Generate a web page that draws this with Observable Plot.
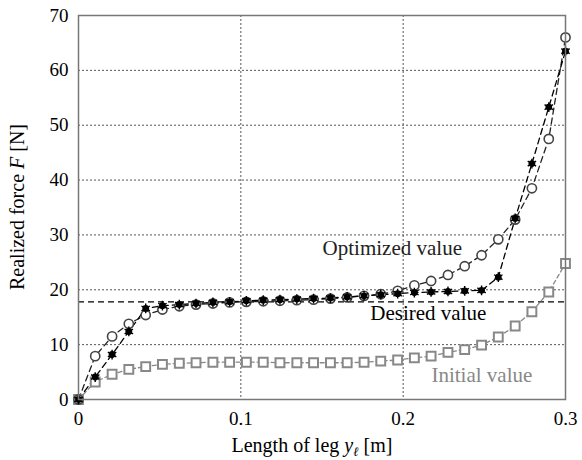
<!DOCTYPE html>
<html><head><meta charset="utf-8">
<script src="https://cdn.jsdelivr.net/npm/d3@7"></script>
<script src="https://cdn.jsdelivr.net/npm/@observablehq/plot@0.6"></script>
<style>
@font-face { font-family: "RefSerif"; src: local("Liberation Serif"), local("LiberationSerif"), local("LiberationSerif-Regular"); font-style: normal; }
@font-face { font-family: "RefSerif"; src: local("Liberation Serif Italic"), local("LiberationSerif-Italic"); font-style: italic; }
html,body{margin:0;padding:0;background:#fff;}
</style></head>
<body><div id="chart"></div>
<script>
const legLength = [0, 0.0103, 0.0207, 0.031, 0.0414, 0.0517, 0.0621, 0.0724, 0.0828, 0.0931, 0.1034, 0.1138, 0.1241, 0.1345, 0.1448, 0.1552, 0.1655, 0.1759, 0.1862, 0.1966, 0.2069, 0.2172, 0.2276, 0.2379, 0.2483, 0.2586, 0.269, 0.2793, 0.2897, 0.3];
const initialValue = [0, 3.2, 4.6, 5.5, 6.0, 6.4, 6.6, 6.7, 6.8, 6.8, 6.8, 6.8, 6.7, 6.7, 6.7, 6.7, 6.7, 6.8, 7.0, 7.2, 7.6, 7.9, 8.6, 9.1, 9.9, 11.4, 13.4, 16.0, 19.6, 24.8];
const optimizedValue = [0, 7.9, 11.5, 13.8, 15.4, 16.4, 17.0, 17.3, 17.5, 17.7, 17.8, 17.9, 18.0, 18.1, 18.2, 18.4, 18.6, 18.9, 19.2, 19.8, 20.8, 21.6, 22.7, 24.3, 26.3, 29.2, 32.8, 38.5, 47.5, 66.0];
const realizedValue = [0, 4.1, 8.2, 12.4, 16.6, 17.1, 17.3, 17.5, 17.7, 17.8, 18.0, 18.1, 18.2, 18.3, 18.4, 18.5, 18.7, 18.9, 19.1, 19.3, 19.5, 19.6, 19.7, 19.8, 19.9, 22.3, 33.0, 43.0, 53.3, 63.5];
const desiredValue = 17.8;
const xTicks = [0, 0.1, 0.2, 0.3];
const yTicks = [0, 10, 20, 30, 40, 50, 60, 70];

const initial = legLength.map((x, i) => ({x, y: initialValue[i]}));
const optimized = legLength.map((x, i) => ({x, y: optimizedValue[i]}));
const realized = legLength.map((x, i) => ({x, y: realizedValue[i]}));

const serif = "'Liberation Serif', RefSerif, Tinos, 'Times New Roman', Times, 'DejaVu Serif', serif";

const chart = Plot.plot({
  width: 582, height: 460,
  marginLeft: 78, marginRight: 17, marginTop: 15, marginBottom: 61,
  style: {fontSize: "19px", color: "#000", background: "#fff"},
  x: {domain: [0, 0.3], ticks: xTicks, tickFormat: d => d === 0 ? "0" : String(d), label: null, tickSize: 0, tickPadding: 12},
  y: {domain: [0, 70], ticks: yTicks, label: null, tickSize: 0, tickPadding: 10},
  marks: [
    Plot.gridX([0.1, 0.2], {stroke: "#555", strokeOpacity: 1, strokeDasharray: "2,2", strokeWidth: 1}),
    Plot.gridY([10, 20, 30, 40, 50, 60], {stroke: "#555", strokeOpacity: 1, strokeDasharray: "2,2", strokeWidth: 1}),
    Plot.ruleY([desiredValue], {x1: 0, x2: 0.3, stroke: "#000", strokeDasharray: "6,4", strokeWidth: 1.3}),
    Plot.line(initial, {x: "x", y: "y", stroke: "#888", strokeDasharray: "4,3", strokeWidth: 1.3}),
    Plot.line(optimized, {x: "x", y: "y", stroke: "#222", strokeDasharray: "6,4", strokeWidth: 1.3}),
    Plot.line(realized, {x: "x", y: "y", stroke: "#000", strokeDasharray: "6,4", strokeWidth: 1.3}),
    Plot.dot(initial, {x: "x", y: "y", symbol: "square", r: 5, stroke: "#888", fill: "#fff", strokeWidth: 2}),
    Plot.dot(optimized, {x: "x", y: "y", symbol: "circle", r: 4.6, stroke: "#444", fill: "#fff", strokeWidth: 1.6}),
    Plot.dot(realized, {x: "x", y: "y", symbol: "circle", r: 3.4, fill: "#000", stroke: "none"}),
    Plot.dot(realized, {x: "x", y: "y", symbol: "asterisk", r: 4.6, stroke: "#000", strokeWidth: 1.4}),
    Plot.text(["Optimized value"], {x: 0.1933, y: 27.6, fontSize: 21, fill: "#222"}),
    Plot.text(["Desired value"], {x: 0.2155, y: 15.7, fontSize: 21, fill: "#000"}),
    Plot.text(["Initial value"], {x: 0.2485, y: 4.4, fontSize: 21, fill: "#888"}),
    Plot.frame({stroke: "#777", strokeWidth: 1.5})
  ]
});

const svg = d3.select(chart);
svg.insert("style", ":first-child").text(`text, tspan { font-family: ${serif} !important; }`);
svg.attr("font-family", serif).style("font-family", serif);
svg.selectAll("text").attr("font-family", serif).style("font-family", serif);
svg.append("text")
  .attr("transform", "translate(24,207) rotate(-90)")
  .attr("text-anchor", "middle")
  .attr("font-size", 20)
  .attr("fill", "#000")
  .attr("font-family", serif)
  .call(t => {
    t.append("tspan").text("Realized force ");
    t.append("tspan").attr("font-style", "italic").text("F");
    t.append("tspan").text(" [N]");
  });
svg.append("text")
  .attr("x", 312).attr("y", 452)
  .attr("text-anchor", "middle")
  .attr("font-size", 20)
  .attr("fill", "#000")
  .attr("font-family", serif)
  .call(t => {
    t.append("tspan").text("Length of leg ");
    t.append("tspan").attr("font-style", "italic").text("y");
    t.append("tspan").attr("font-style", "italic").attr("font-size", 13).attr("dy", 4).text("ℓ");
    t.append("tspan").attr("dy", -4).text(" [m]");
  });

document.getElementById("chart").appendChild(chart);
</script>
</body></html>
